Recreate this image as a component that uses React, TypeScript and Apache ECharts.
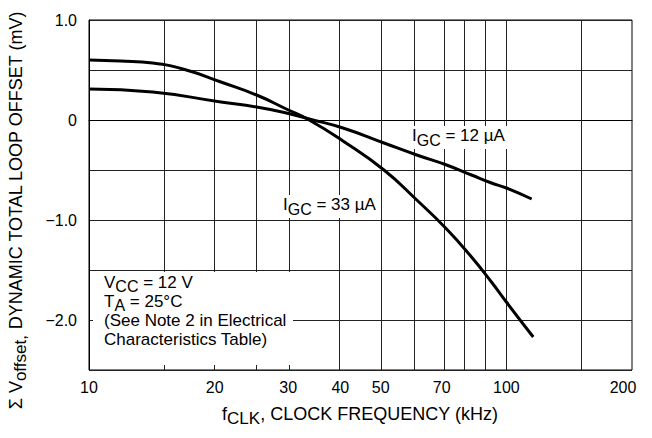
import React, { useEffect, useRef } from "react";
import * as echarts from "echarts";

// I_GC = 33 uA curve (kHz, mV)
const freq33 = [10, 11.9, 14.2, 17.1, 20.7, 25.2, 29.7, 33.7, 40.6, 50.9, 61.0, 71.9, 82.5, 92.1, 100, 116];
const val33 = [0.6, 0.59, 0.57, 0.5, 0.38, 0.25, 0.11, 0.0, -0.21, -0.5, -0.8, -1.09, -1.37, -1.62, -1.82, -2.17];

// I_GC = 12 uA curve (kHz, mV)
const freq12 = [10, 14.2, 20.7, 25.2, 29.7, 33.7, 40.6, 50.9, 61.0, 71.9, 82.5, 92.1, 100, 115];
const val12 = [0.31, 0.28, 0.18, 0.13, 0.07, 0.01, -0.08, -0.23, -0.35, -0.45, -0.55, -0.63, -0.68, -0.79];

// Axis ticks
const xLabelValues = [10, 20, 30, 40, 50, 70, 100, 200];
const xGridValues = [15, 20, 25, 30, 40, 50, 60, 70, 80, 90, 100, 150];
const yLabelValues = [1, 0, -1, -2];
const yLabelTexts = ["1.0", "0", "\u22121.0", "\u22122.0"];

// Conditions annotation lines
const noteLines = [
  "{n|V}{s|CC}{n| = 12 V}",
  "{n|T}{s|A}{n| = 25\u00B0C}",
  "{n|(See Note 2 in Electrical}",
  "{n|Characteristics Table)}",
];

const FONT = "'Liberation Sans', Arial, Helvetica, sans-serif";

export default function App() {
  const ref = useRef<HTMLDivElement>(null);
  useEffect(() => {
    if (!ref.current) return;
    const chart = echarts.init(ref.current, undefined, { renderer: "svg" });
    const lg = (f: number) => Math.log10(f);
    const subRich = (size: number, lh: number, sh = 5) => ({
      n: { fontSize: size, fontFamily: FONT, color: "#000", lineHeight: lh, padding: [0, 0, sh, 0] },
      s: { fontSize: size - 1, fontFamily: FONT, color: "#000", lineHeight: lh, padding: [sh, 0, 0, 0] },
    });
    const option: any = {
      animation: false,
      backgroundColor: "#fff",
      grid: {
        left: 89,
        right: 20,
        top: 20,
        bottom: 68,
        show: true,
        borderColor: "#000",
        borderWidth: 1,
        containLabel: false,
      },
      xAxis: {
        type: "value",
        min: 1,
        max: lg(200),
        axisLine: { show: true, lineStyle: { color: "#000", width: 1 } },
        axisTick: { show: false },
        splitLine: { show: false },
        axisLabel: {
          customValues: xLabelValues.map(lg),
          margin: 9,
          fontSize: 16,
          fontFamily: FONT,
          color: "#000",
          formatter: (v: number) => {
            const f = Math.round(Math.pow(10, v));
            return f === 200 ? "{last|200}" : String(f);
          },
          rich: {
            last: { fontSize: 16, fontFamily: FONT, color: "#000", padding: [0, 18, 0, 0] },
          },
        },
      },
      yAxis: {
        type: "value",
        min: -2.5,
        max: 1,
        interval: 0.5,
        axisLine: { show: true, lineStyle: { color: "#000", width: 1 } },
        axisTick: { show: false },
        splitLine: { show: true, lineStyle: { color: "#222", width: 1 } },
        axisLabel: {
          margin: 12,
          fontSize: 16,
          fontFamily: FONT,
          color: "#000",
          formatter: (v: number) => {
            const i = yLabelValues.findIndex((y) => Math.abs(y - v) < 1e-9);
            return i >= 0 ? yLabelTexts[i] : "";
          },
        },
      },
      series: [
        {
          type: "line",
          name: "IGC = 12 uA",
          data: freq12.map((f, i) => [lg(f), val12[i]]),
          showSymbol: false,
          smooth: 0.5,
          lineStyle: { color: "#000", width: 3 },
          z: 3,
          markLine: {
            silent: true,
            symbol: "none",
            label: { show: false },
            lineStyle: { color: "#222", width: 1, type: "solid" },
            data: xGridValues.map((f) => ({ xAxis: lg(f) })),
            z: 1,
          },
        },
        {
          type: "line",
          name: "IGC = 33 uA",
          data: freq33.map((f, i) => [lg(f), val33[i]]),
          showSymbol: false,
          smooth: 0.5,
          lineStyle: { color: "#000", width: 3 },
          z: 3,
        },
      ],
      graphic: [
        {
          type: "rect",
          z: 99,
          shape: { x: 93, y: 272, width: 200, height: 93 },
          style: { fill: "#fff" },
          silent: true,
        },
        ...noteLines.map((t, i) => ({
          type: "text",
          z: 100,
          x: 104,
          y: 278 + i * 19,
          style: {
            text: t,
            rich: subRich(17, 13, 4),
            align: "left",
            verticalAlign: "top",
          },
        })),
        {
          type: "text",
          z: 100,
          x: 409,
          y: 126,
          style: {
            text: "{n|I}{s|GC}{n| = 12 \u00B5A}",
            rich: subRich(17, 19),
            backgroundColor: "#fff",
            padding: [2, 3, 2, 3],
            align: "left",
            verticalAlign: "top",
          },
        },
        {
          type: "text",
          z: 100,
          x: 280,
          y: 195,
          style: {
            text: "{n|I}{s|GC}{n| = 33 \u00B5A}",
            rich: subRich(17, 19),
            backgroundColor: "#fff",
            padding: [2, 3, 2, 3],
            align: "left",
            verticalAlign: "top",
          },
        },
        {
          type: "text",
          z: 100,
          x: 360,
          y: 406,
          style: {
            text: "{n|f}{s|CLK}{n|, CLOCK FREQUENCY (kHz)}",
            rich: subRich(18, 20),
            align: "center",
            verticalAlign: "top",
          },
        },
        {
          type: "text",
          z: 100,
          x: 18,
          y: 210,
          rotation: Math.PI / 2,
          style: {
            text: "{n|\u03A3 V}{s|offset,}{n| DYNAMIC TOTAL LOOP OFFSET (mV)}",
            rich: subRich(18, 20),
            align: "center",
            verticalAlign: "middle",
          },
        },
      ],
    };
    chart.setOption(option);
    return () => chart.dispose();
  }, []);
  return (
    <div
      ref={ref}
      style={{ position: "fixed", left: 0, top: 0, width: 652, height: 438, background: "#fff" }}
    />
  );
}
